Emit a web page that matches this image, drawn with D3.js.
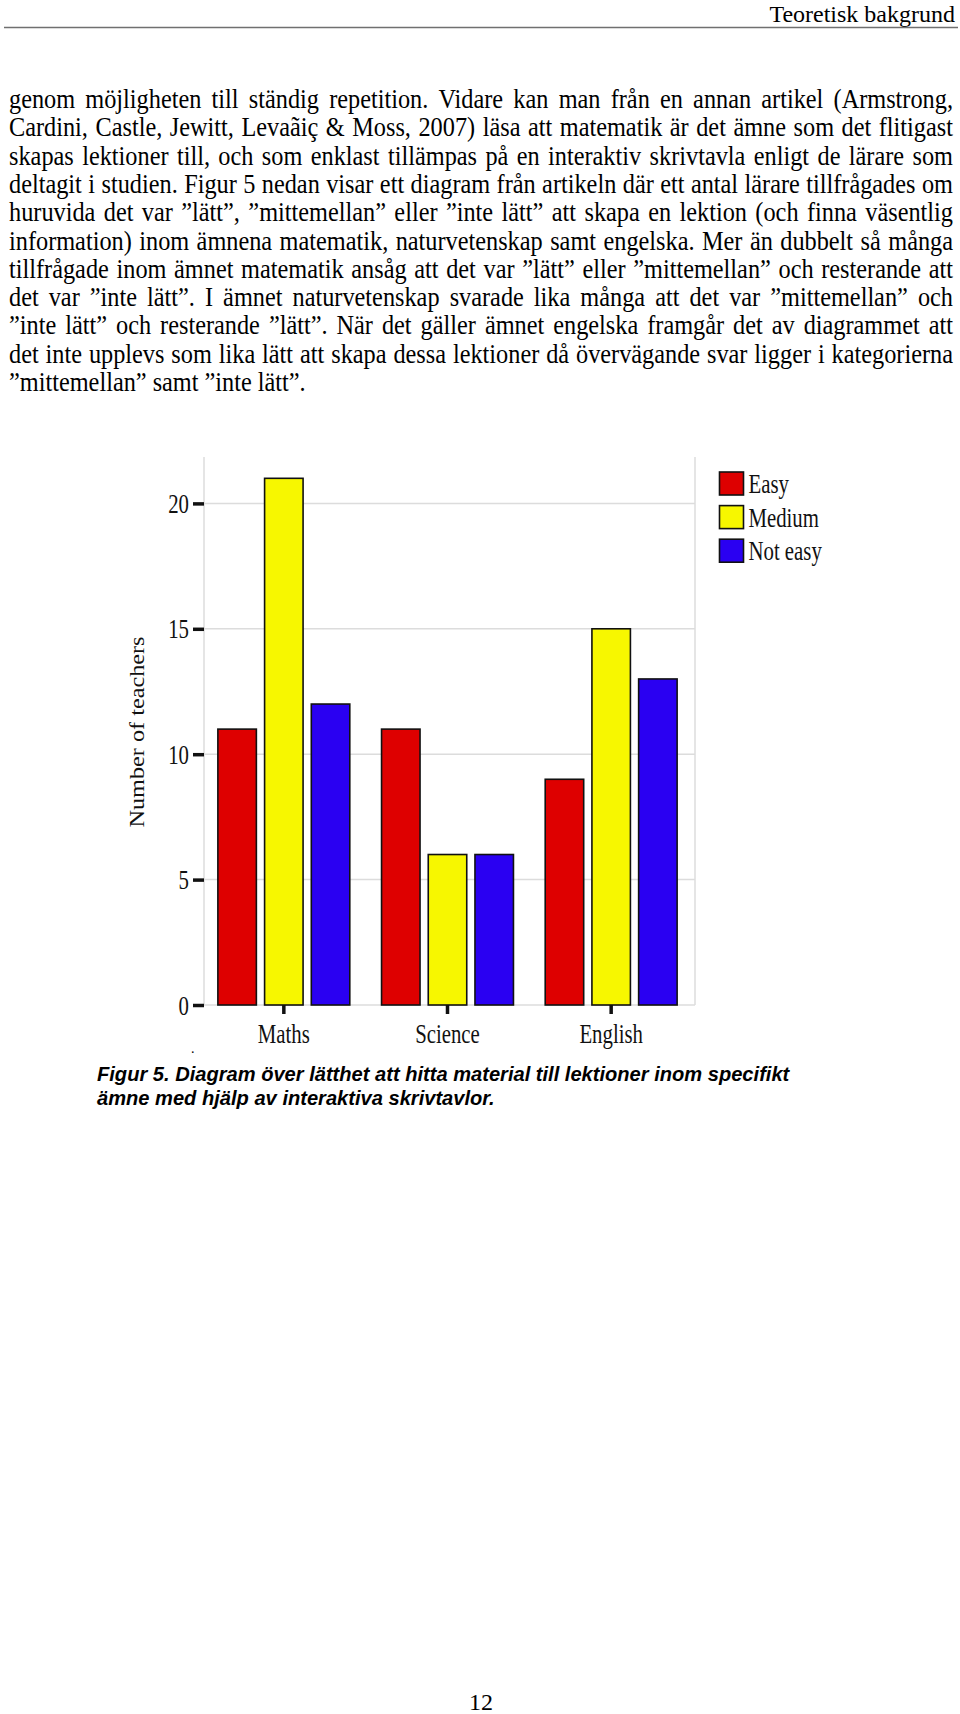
<!DOCTYPE html>
<html>
<head>
<meta charset="utf-8">
<script src="https://cdn.jsdelivr.net/npm/d3@7"></script>
<style>
  html, body { margin: 0; padding: 0; background: #fff; }
  svg { display: block; }
</style>
</head>
<body>
<svg id="page" width="960" height="1714"></svg>
<script>
// ---------------- data ----------------
const categories = ["Maths", "Science", "English"];
const seriesNames = ["Easy", "Medium", "Not easy"];
const easyValues = [11, 11, 9];
const mediumValues = [21, 6, 15];
const notEasyValues = [12, 6, 13];
const yTickValues = [0, 5, 10, 15, 20];
const seriesColors = ["#de0000", "#f7f700", "#2a00f2"];
const yAxisTitle = "Number of teachers";

const headerText = "Teoretisk bakgrund";
const bodyLines = [
  "genom möjligheten till ständig repetition. Vidare kan man från en annan artikel (Armstrong,",
  "Cardini, Castle, Jewitt, Levaãiç & Moss, 2007) läsa att matematik är det ämne som det flitigast",
  "skapas lektioner till, och som enklast tillämpas på en interaktiv skrivtavla enligt de lärare som",
  "deltagit i studien. Figur 5 nedan visar ett diagram från artikeln där ett antal lärare tillfrågades om",
  "huruvida det var ”lätt”, ”mittemellan” eller ”inte lätt” att skapa en lektion (och finna väsentlig",
  "information) inom ämnena matematik, naturvetenskap samt engelska. Mer än dubbelt så många",
  "tillfrågade inom ämnet matematik ansåg att det var ”lätt” eller ”mittemellan” och resterande att",
  "det var ”inte lätt”. I ämnet naturvetenskap svarade lika många att det var ”mittemellan” och",
  "”inte lätt” och resterande ”lätt”. När det gäller ämnet engelska framgår det av diagrammet att",
  "det inte upplevs som lika lätt att skapa dessa lektioner då övervägande svar ligger i kategorierna",
  "”mittemellan” samt ”inte lätt”."
];
const captionLines = [
  "Figur 5. Diagram över lätthet att hitta material till lektioner inom specifikt",
  "ämne med hjälp av interaktiva skrivtavlor."
];
const pageNumber = "12";

// ---------------- page ----------------
const svg = d3.select("#page");
const serif = "'Liberation Serif', 'Times New Roman', serif";
const sans = "'Liberation Sans', Arial, sans-serif";

// header
svg.append("text")
  .attr("x", 955).attr("y", 22)
  .attr("text-anchor", "end")
  .attr("font-family", serif).attr("font-size", 24)
  .text(headerText);
svg.append("line")
  .attr("x1", 4).attr("x2", 958).attr("y1", 27.5).attr("y2", 27.5)
  .attr("stroke", "#707070").attr("stroke-width", 1.5);

// body text (justified)
const textLeft = 9, textRight = 953, firstBaseline = 108, lineStep = 28.3;
const bodySize = 24.3, bodyStretch = 1.08;
bodyLines.forEach((line, i) => {
  const yb = firstBaseline + i * lineStep;
  const words = line.split(" ");
  const g = svg.append("g");
  const nodes = words.map(w => g.append("text")
    .attr("font-family", serif).attr("font-size", bodySize)
    .text(w));
  const widths = nodes.map(n => n.node().getComputedTextLength());
  const total = d3.sum(widths);
  const spaceW = 6;
  const justify = i < bodyLines.length - 1;
  const gap = justify ? (textRight - textLeft - total) / (words.length - 1) : spaceW;
  let x = textLeft;
  nodes.forEach((n, k) => {
    n.attr("transform", `translate(${x},${yb}) scale(1,${bodyStretch})`);
    x += widths[k] + gap;
  });
});

// ---------------- chart ----------------
const plot = { left: 204, right: 695, top: 457, bottom: 1005 };
const y = d3.scaleLinear().domain([0, 21.85]).range([plot.bottom, plot.top]);
const x0 = d3.scaleBand().domain(categories)
  .range([plot.left - 2, plot.right - 2]).paddingInner(0.194).paddingOuter(0.097);
const x1 = d3.scaleBand().domain(seriesNames)
  .range([0, x0.bandwidth()]).paddingInner(0.176).paddingOuter(0);
const color = d3.scaleOrdinal().domain(seriesNames).range(seriesColors);

const seriesValues = [easyValues, mediumValues, notEasyValues];
const table = categories.map((c, ci) => ({
  category: c,
  values: seriesNames.map((s, si) => ({ series: s, value: seriesValues[si][ci] }))
}));

const chart = svg.append("g");

// grid
chart.append("g").selectAll("line").data(yTickValues).join("line")
  .attr("x1", plot.left).attr("x2", plot.right)
  .attr("y1", d => y(d)).attr("y2", d => y(d))
  .attr("stroke", "#dcdcdc").attr("stroke-width", 1.5);
chart.append("g").selectAll("line").data([plot.left, plot.right]).join("line")
  .attr("x1", d => d).attr("x2", d => d)
  .attr("y1", plot.top).attr("y2", plot.bottom)
  .attr("stroke", "#dcdcdc").attr("stroke-width", 1.5);

// bars
chart.append("g").selectAll("g").data(table).join("g")
  .attr("transform", d => `translate(${x0(d.category)},0)`)
  .selectAll("rect").data(d => d.values).join("rect")
  .attr("x", d => x1(d.series))
  .attr("width", x1.bandwidth())
  .attr("y", d => y(d.value))
  .attr("height", d => y(0) - y(d.value))
  .attr("fill", d => color(d.series))
  .attr("stroke", "#111").attr("stroke-width", 1.6);

// y axis
const sx = 0.77;
const yAxis = chart.append("g")
  .attr("transform", `translate(${plot.left},0)`)
  .call(d3.axisLeft(y).tickValues(yTickValues).tickSize(11).tickPadding(4).tickFormat(d3.format("d")));
yAxis.select(".domain").remove();
yAxis.selectAll(".tick line").attr("stroke", "#111").attr("stroke-width", 3.5);
yAxis.selectAll(".tick text")
  .attr("font-family", serif).attr("font-size", 27).attr("fill", "#111")
  .attr("x", -15 / sx).attr("dy", "0.34em")
  .attr("transform", `scale(${sx},1)`);

// x axis
const xAxis = chart.append("g")
  .attr("transform", `translate(0,${plot.bottom})`)
  .call(d3.axisBottom(x0).tickSize(9).tickPadding(4));
xAxis.select(".domain").remove();
xAxis.selectAll(".tick line").attr("stroke", "#111").attr("stroke-width", 3.5);
xAxis.selectAll(".tick text")
  .attr("font-family", serif).attr("font-size", 27).attr("fill", "#111")
  .attr("y", 38).attr("dy", 0)
  .attr("transform", `scale(${sx},1)`)
  .attr("x", 0);

// y title
svg.append("text")
  .attr("transform", "translate(144,732) rotate(-90)")
  .attr("text-anchor", "middle")
  .attr("font-family", serif).attr("font-size", 22)
  .attr("textLength", 191).attr("lengthAdjust", "spacingAndGlyphs")
  .attr("fill", "#111")
  .text(yAxisTitle);

// legend
const legend = svg.append("g").attr("transform", "translate(719.5,472)");
const legItems = legend.selectAll("g").data(seriesNames).join("g")
  .attr("transform", (d, i) => `translate(0,${i * 33.6})`);
legItems.append("rect")
  .attr("width", 24).attr("height", 23)
  .attr("fill", d => color(d))
  .attr("stroke", "#111").attr("stroke-width", 1.6);
legItems.append("text")
  .attr("transform", `translate(29,21) scale(${sx},1)`)
  .attr("font-family", serif).attr("font-size", 27).attr("fill", "#111")
  .text(d => d);

// stray dot below axis
svg.append("text")
  .attr("x", 191).attr("y", 1053)
  .attr("font-family", serif).attr("font-size", 14)
  .text(".");

// caption
captionLines.forEach((line, i) => {
  svg.append("text")
    .attr("x", 97).attr("y", 1081 + i * 24)
    .attr("font-family", sans).attr("font-size", 20.1)
    .attr("font-weight", "bold").attr("font-style", "italic")
    .text(line);
});

// page number
svg.append("text")
  .attr("x", 481).attr("y", 1710)
  .attr("text-anchor", "middle")
  .attr("font-family", serif).attr("font-size", 24)
  .text(pageNumber);
</script>
</body>
</html>
